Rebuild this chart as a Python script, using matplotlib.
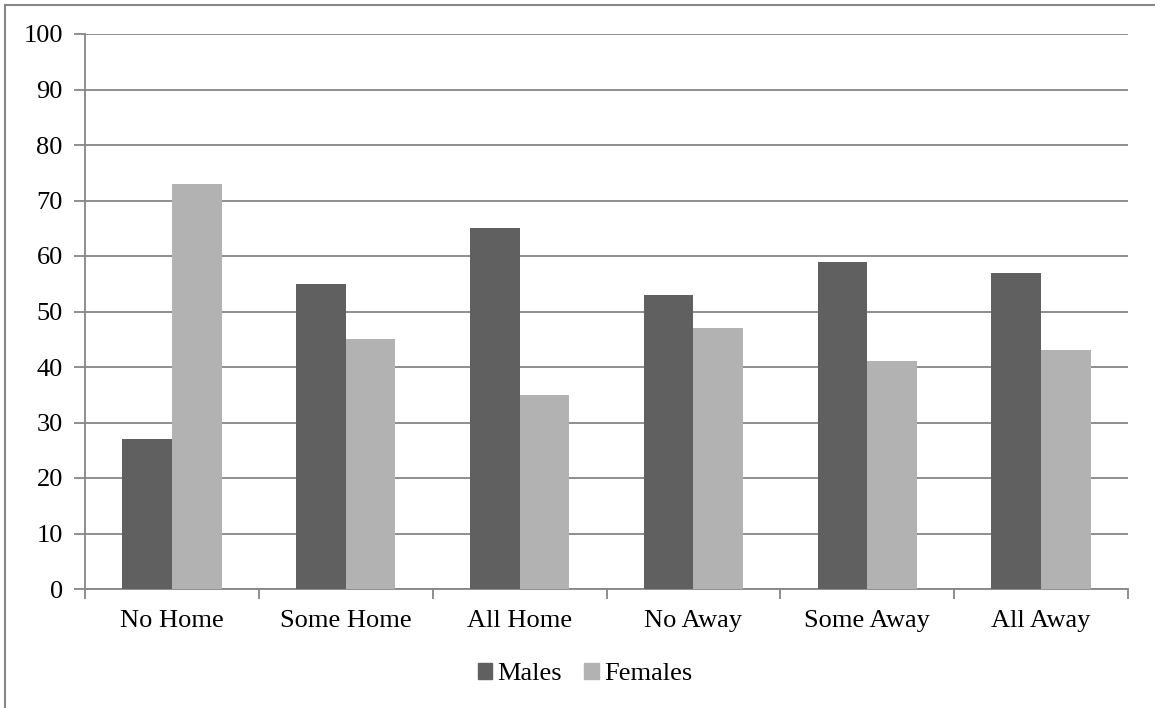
import matplotlib
matplotlib.use("Agg")
import matplotlib.pyplot as plt
from matplotlib.patches import Rectangle, Patch
import numpy as np

categories = ["No Home", "Some Home", "All Home", "No Away", "Some Away", "All Away"]
males = [27, 55, 65, 53, 59, 57]
females = [73, 45, 35, 47, 41, 43]
yticks = [0, 10, 20, 30, 40, 50, 60, 70, 80, 90, 100]

plt.rcParams["font.family"] = ["Liberation Serif", "DejaVu Serif"]

W, H = 1155, 708
fig = plt.figure(figsize=(W / 100, H / 100), dpi=100)

# plot area in pixel coordinates
left, right, top, bottom = 85, 1128, 34, 589
ax = fig.add_axes([left / W, 1 - bottom / H, (right - left) / W, (bottom - top) / H])

grid_c = "#868686"
male_c = "#606060"
female_c = "#b2b2b2"
fs = 19

n = len(categories)
x = np.arange(n)
bw = 1 / 3.5
ax.bar(x - bw / 2, males, width=bw, color=male_c, zorder=3, label="Males")
ax.bar(x + bw / 2, females, width=bw, color=female_c, zorder=3, label="Females")

ax.set_xlim(-0.5, n - 0.5)
ax.set_ylim(0, 100)
ax.set_yticks(yticks)
ax.set_yticklabels([str(v) for v in yticks], fontsize=fs)
ax.yaxis.grid(True, color=grid_c, linewidth=1.3, zorder=0)
ax.set_axisbelow(True)

# category labels, with tick marks on the group boundaries
ax.set_xticks(x)
ax.set_xticklabels(categories, fontsize=fs)
ax.tick_params(axis="x", which="major", length=0, pad=15)
ax.set_xticks(np.arange(n + 1) - 0.5, minor=True)
ax.tick_params(axis="x", which="minor", length=7, width=1.3, color=grid_c, direction="out")
ax.tick_params(axis="y", length=8, width=1.3, color=grid_c, pad=8)

for s in ["top", "right"]:
    ax.spines[s].set_visible(False)
for s in ["left", "bottom"]:
    ax.spines[s].set_color(grid_c)
    ax.spines[s].set_linewidth(1.3)

handles = [Patch(color=male_c, label="Males"), Patch(color=female_c, label="Females")]
fig.legend(handles=handles, loc="center", bbox_to_anchor=(585 / W, 1 - 674 / H),
           ncol=2, frameon=False, fontsize=fs, handlelength=0.55, handleheight=0.55,
           handletextpad=0.2, columnspacing=0.85)

# chart frame
fig.add_artist(Rectangle((5 / W, -0.1), 1.2, 1 - 5 / H + 0.1, transform=fig.transFigure,
                         fill=False, edgecolor=grid_c, linewidth=1.5))

fig.savefig("out.png", dpi=100)
